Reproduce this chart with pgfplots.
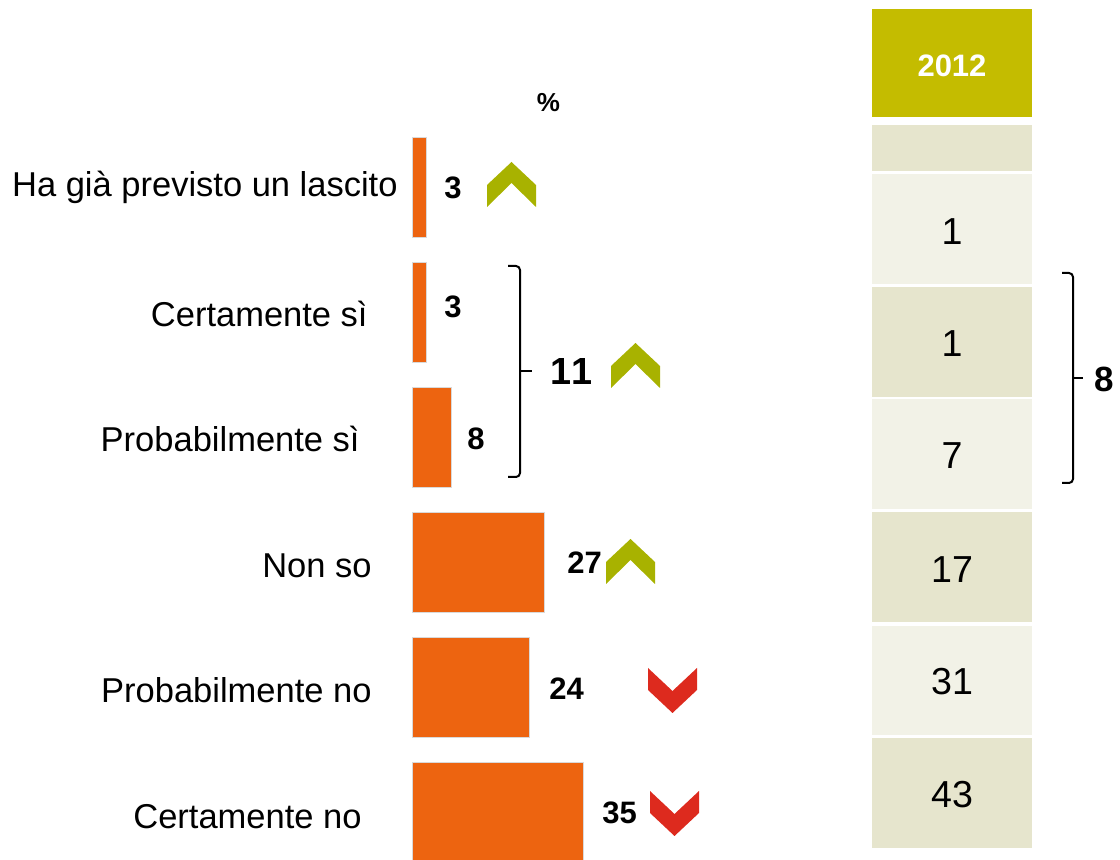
\documentclass[border=0pt]{standalone}
\usepackage{pgfplots}
\pgfplotsset{compat=1.18}
\usepackage{fontspec}
\setmainfont{Liberation Sans}
\definecolor{barorange}{RGB}{237,100,16}
\definecolor{upolive}{RGB}{168,178,0}
\definecolor{downred}{RGB}{221,42,30}
\definecolor{headolive}{RGB}{196,188,0}
\definecolor{rowdark}{RGB}{230,229,205}
\definecolor{rowlight}{RGB}{242,242,231}
\newcommand{\labfont}{\fontsize{17.25}{20}\selectfont}
\newcommand{\valfont}{\fontsize{15.5}{18}\selectfont\bfseries}
\newcommand{\tabfont}{\fontsize{18.8}{22}\selectfont}
\newcommand{\upchev}[3]{\fill[#3] (#1,#2+45) -- (#1,#2+23) -- (#1+24.5,#2) -- (#1+49,#2+23) -- (#1+49,#2+45) -- (#1+24.5,#2+21) -- cycle;}
\newcommand{\downchev}[3]{\fill[#3] (#1,#2) -- (#1+24.5,#2+23) -- (#1+49,#2) -- (#1+49,#2+22) -- (#1+24.5,#2+45) -- (#1,#2+22) -- cycle;}
\pgfplotstableread{
pos val
0 3
1 3
2 8
3 27
4 24
5 35
}\bardata
\begin{document}
\begin{tikzpicture}
\begin{axis}[
  at={(206pt,-62.5pt)}, anchor=north west,
  scale only axis, width=245pt, height=375pt,
  xmin=0, xmax=100, ymin=-0.5, ymax=5.5, y dir=reverse,
  hide axis, clip=false,
  xbar, bar width=50pt,
]
\addplot[fill=barorange, draw=black!15, line width=0.3pt] table[x=val, y=pos] {\bardata};
\end{axis}
\begin{scope}[x=0.5pt, y=-0.5pt]
% category labels
\node[anchor=base east, inner sep=0, font=\labfont] at (398,197) {Ha già previsto un lascito};
\node[anchor=base east, inner sep=0, font=\labfont] at (368,327) {Certamente sì};
\node[anchor=base east, inner sep=0, font=\labfont] at (360,452) {Probabilmente sì};
\node[anchor=base east, inner sep=0, font=\labfont] at (372,578) {Non so};
\node[anchor=base east, inner sep=0, font=\labfont] at (372,703) {Probabilmente no};
\node[anchor=base east, inner sep=0, font=\labfont] at (362,828) {Certamente no};
% percent sign
\node[anchor=base, inner sep=0, font=\fontsize{13}{15}\selectfont\bfseries] at (548.5,112) {\%};
% value labels
\node[anchor=base west, inner sep=0, font=\valfont] at (444,199) {3};
\node[anchor=base west, inner sep=0, font=\valfont] at (444,318) {3};
\node[anchor=base west, inner sep=0, font=\valfont] at (467,450) {8};
\node[anchor=base west, inner sep=0, font=\fontsize{18.9}{22}\selectfont\bfseries\addfontfeatures{Kerning=Off}] at (550,385) {11};
\node[anchor=base west, inner sep=0, font=\valfont] at (567,574) {27};
\node[anchor=base west, inner sep=0, font=\valfont] at (549,700) {24};
\node[anchor=base west, inner sep=0, font=\valfont] at (602,824) {35};
% chevrons
\upchev{487}{162}{upolive}
\upchev{611}{343}{upolive}
\upchev{606}{539}{upolive}
\downchev{648}{668}{downred}
\downchev{650}{791}{downred}
% brace left
\draw[line width=1pt, rounded corners=2pt] (508,266) -- (520,266) -- (520,477) -- (508,477);
\draw[line width=1pt] (520,371) -- (532,371);
% table
\fill[headolive] (872,9) rectangle (1032,117);
\fill[rowdark] (872,125) rectangle (1032,171);
\fill[rowlight] (872,174) rectangle (1032,284);
\fill[rowdark] (872,287) rectangle (1032,397);
\fill[rowlight] (872,399) rectangle (1032,509);
\fill[rowdark] (872,512) rectangle (1032,622);
\fill[rowlight] (872,626) rectangle (1032,735);
\fill[rowdark] (872,738) rectangle (1032,848);
\node[anchor=base, inner sep=0, text=white, font=\valfont] at (952,77) {2012};
\node[anchor=base, inner sep=0, font=\tabfont] at (952,245) {1};
\node[anchor=base, inner sep=0, font=\tabfont] at (952,357) {1};
\node[anchor=base, inner sep=0, font=\tabfont] at (952,469) {7};
\node[anchor=base, inner sep=0, font=\tabfont] at (952,583) {17};
\node[anchor=base, inner sep=0, font=\tabfont] at (952,695) {31};
\node[anchor=base, inner sep=0, font=\tabfont] at (952,808) {43};
% brace right
\draw[line width=1pt, rounded corners=2pt] (1062,273) -- (1073,273) -- (1073,483) -- (1062,483);
\draw[line width=1pt] (1073,378) -- (1083,378);
\node[anchor=base west, inner sep=0, font=\fontsize{17.5}{20}\selectfont\bfseries] at (1094,392) {8};
\pgfresetboundingbox
\path[use as bounding box] (0,0) rectangle (1120,860);
\end{scope}
\end{tikzpicture}
\end{document}
